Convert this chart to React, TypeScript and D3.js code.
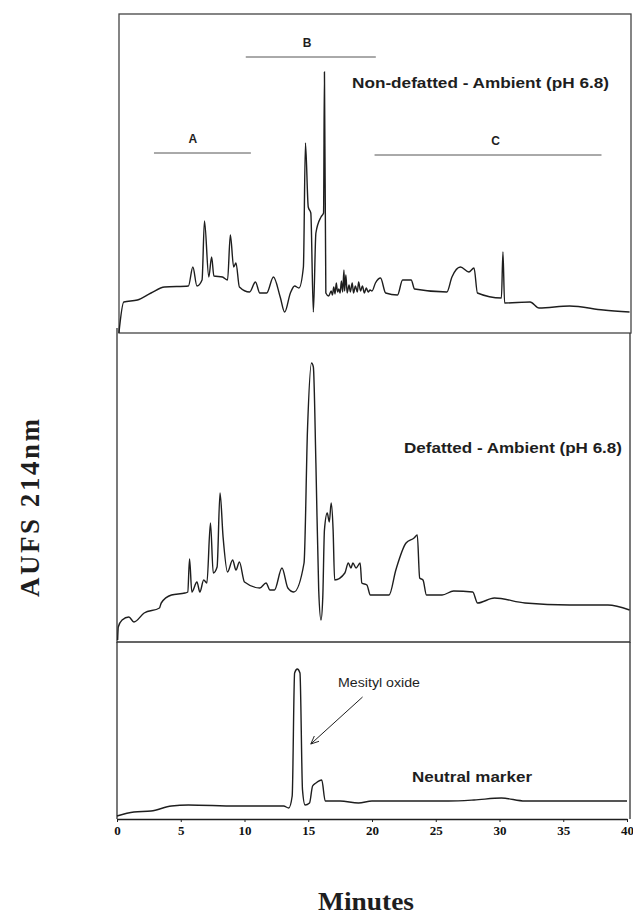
import { useEffect, useRef } from 'react';
import * as d3 from 'd3';

// Non-defatted - Ambient (pH 6.8)
const topTime = [0.15, 0.53, 1.6, 2.67, 3.73, 5.6, 5.95, 6.27, 6.67, 6.86, 7.2, 7.42, 7.6, 8.27, 8.67, 8.89, 9.15, 9.33, 9.6,
  10.4, 10.86, 11.2, 11.74, 12.27, 12.8, 13.15, 13.6, 13.93, 14.27, 14.62, 14.78, 15.0, 15.2, 15.4, 15.6, 16.0, 16.2, 16.27, 16.38,
  16.6, 16.8, 16.9, 17.0, 17.1, 17.2, 17.3, 17.4, 17.5, 17.6, 17.7, 17.8, 17.85, 17.95, 18.05, 18.2, 18.3, 18.45, 18.55, 18.7,
  18.85, 18.95, 19.1, 19.25, 19.4, 19.55, 19.7, 19.85, 20.0, 20.27, 20.67, 21.07, 22.0, 22.4, 23.07, 23.34, 25.87, 26.27, 26.94,
  27.6, 28.0, 28.27, 30.15, 30.27, 30.4, 32.4, 33.1, 35.5, 38.15, 40.2];
const topSignal = [0, 31, 33, 40, 46, 47, 66, 47, 53, 112, 56, 76, 57, 56, 53, 98, 66, 70, 46,
  41, 51, 40, 40, 56, 36, 21, 40, 47, 45, 66, 190, 126, 120, 21, 100, 116, 120, 261, 40,
  37, 42, 38, 46, 39, 50, 41, 44, 40, 52, 41, 63, 42, 58, 40, 48, 41, 50, 40, 47,
  41, 51, 42, 47, 40, 45, 41, 43, 42, 50, 55, 40, 38, 53, 53, 44, 41, 56, 66,
  61, 65, 40, 35, 81, 30, 31, 25, 27, 23, 21];

// Defatted - Ambient (pH 6.8)
const midTime = [0.05, 0.1, 0.4, 0.93, 1.33, 2.13, 3.33, 3.47, 4.27, 5.33, 5.55, 5.69, 5.87, 6.27, 6.5, 6.8, 7.05, 7.33, 7.55,
  7.85, 8.08, 8.32, 8.67, 9.07, 9.33, 9.6, 10.0, 11.2, 11.69, 12.0, 12.35, 12.94, 13.4, 13.87, 14.67, 14.94, 15.26, 15.4, 15.6,
  15.82, 16.0, 16.14, 16.27, 16.49, 16.65, 16.8, 16.95, 17.07, 17.87, 18.14, 18.35, 18.5, 18.75, 19.07, 19.2, 19.6, 19.87,
  21.34, 21.87, 22.67, 23.3, 23.55, 23.74, 24.0, 24.27, 25.5, 26.4, 27.9, 28.28, 29.6, 32.0, 35.5, 38.5, 40.2];
const midSignal = [2, 15, 22, 25, 20, 29, 34, 39, 47, 49, 50, 83, 50, 60, 50, 62, 59, 119, 69,
  75, 149, 105, 70, 82, 72, 80, 60, 54, 59, 52, 52, 74, 54, 50, 79, 212, 279, 275, 179,
  52, 22, 45, 112, 129, 120, 139, 112, 62, 69, 79, 74, 79, 74, 79, 59, 57, 47,
  47, 72, 99, 104, 107, 64, 62, 47, 47, 51, 50, 39, 44, 39, 37, 37, 32];

// Neutral marker
const botTime = [0, 1.33, 2.67, 4.27, 5.6, 9.33, 13.07, 13.47, 13.74, 13.93, 14.14, 14.35, 14.55, 14.75, 15.1, 15.34, 15.6,
  16.06, 16.33, 17.5, 18.94, 20, 26, 28, 30.15, 32, 40];
const botSignal = [3, 7, 8, 13, 14, 13, 13, 11, 23, 146, 150, 146, 29, 14, 16, 33, 36,
  39, 18, 18, 16, 18, 18, 19, 21, 18, 18];

const tickLabels = [0, 5, 10, 15, 20, 25, 30, 35, 40];

// region bars over the top trace
const regionNames = ['A', 'B', 'C'];
const regionStart = [2.9, 10.1, 20.2];
const regionEnd = [10.5, 20.3, 38.0];
const regionLabelAt = [5.95, 14.9, 29.7];
const regionLevel = [180, 276, 178];

const ink = '#1e1e1e';
const sans = '"Liberation Sans", Arial, sans-serif';
const serif = '"Liberation Serif", "Times New Roman", serif';

function App() {
  const axisRef = useRef<SVGGElement>(null);

  const x = d3.scaleLinear().domain([0, 40]).range([117, 627]);
  const yTop = d3.scaleLinear().domain([0, 300]).range([333, 33]);
  const yMid = d3.scaleLinear().domain([0, 300]).range([642, 342]);
  const yBot = d3.scaleLinear().domain([0, 160]).range([819, 659]);

  const trace = (time: number[], y: d3.ScaleLinear<number, number>) =>
    d3.line<number>()
      .x((_, i) => x(time[i]))
      .y(d => y(d))
      .curve(d3.curveMonotoneX);

  useEffect(() => {
    const g = d3.select(axisRef.current);
    g.selectAll('*').remove();
    g.call(d3.axisBottom(x).tickValues(tickLabels).tickSize(3).tickSizeOuter(0).tickPadding(4));
    g.select('.domain').attr('stroke', ink).attr('stroke-width', 1.4);
    g.selectAll('.tick line').attr('stroke', ink);
    g.selectAll('.tick text')
      .attr('fill', '#111')
      .style('font-family', serif)
      .style('font-weight', 'bold')
      .style('font-size', '13px');
  }, []);

  return (
    <svg width={633} height={915} style={{ position: 'absolute', left: 0, top: 0, background: '#fff' }}>
      <defs>
        <marker id="arrow" viewBox="0 0 10 10" refX="9" refY="5" markerWidth="9" markerHeight="9" orient="auto">
          <path d="M0,1 L9,5 L0,9" fill="none" stroke={ink} strokeWidth={1} />
        </marker>
      </defs>

      {/* frames */}
      <rect x={119} y={14} width={512} height={319} fill="none" stroke="#444" strokeWidth={1.3} />
      <path d="M117,328 V642 H630 V333" fill="none" stroke="#333" strokeWidth={1.3} />
      <path d="M117,642 V819 M630,642 V819" fill="none" stroke="#333" strokeWidth={1.3} />

      {/* traces */}
      <path d={trace(topTime, yTop)(topSignal) ?? ''} fill="none" stroke={ink} strokeWidth={1.4} />
      <path d={trace(midTime, yMid)(midSignal) ?? ''} fill="none" stroke={ink} strokeWidth={1.4} />
      <path d={trace(botTime, yBot)(botSignal) ?? ''} fill="none" stroke={ink} strokeWidth={1.4} />

      {/* region bars */}
      {regionNames.map((n, i) => (
        <g key={n}>
          <line x1={x(regionStart[i])} x2={x(regionEnd[i])} y1={yTop(regionLevel[i])} y2={yTop(regionLevel[i])}
            stroke="#555" strokeWidth={1} />
          <text x={x(regionLabelAt[i])} y={yTop(regionLevel[i]) - 10}
            textAnchor="middle" fontFamily={sans} fontWeight="bold" fontSize={12} fill={ink}>{n}</text>
        </g>
      ))}

      <text x={352} y={88} fontFamily={sans} fontWeight="bold" fontSize={14} fill={ink}
        textLength={257} lengthAdjust="spacingAndGlyphs">Non-defatted - Ambient (pH 6.8)</text>
      <text x={404} y={453} fontFamily={sans} fontWeight="bold" fontSize={14} fill={ink}
        textLength={218} lengthAdjust="spacingAndGlyphs">Defatted - Ambient (pH 6.8)</text>
      <text x={338} y={687} fontFamily={sans} fontSize={12} fill={ink}
        textLength={82} lengthAdjust="spacingAndGlyphs">Mesityl oxide</text>
      <text x={412} y={782} fontFamily={sans} fontWeight="bold" fontSize={15} fill={ink}
        textLength={120} lengthAdjust="spacingAndGlyphs">Neutral marker</text>

      <line x1={x(19.26)} y1={yBot(122)} x2={x(15.2)} y2={yBot(75)} stroke={ink} strokeWidth={1}
        markerEnd="url(#arrow)" />

      {/* x axis */}
      <g ref={axisRef} transform="translate(0,819)" />

      <text x={366} y={910} textAnchor="middle" fontFamily={serif} fontWeight="bold" fontSize={25} fill={ink}
        textLength={96} lengthAdjust="spacingAndGlyphs">Minutes</text>
      <text transform="translate(39,508) rotate(-90)" textAnchor="middle" fontFamily={serif} fontWeight="bold"
        fontSize={27} fill={ink} textLength={178} lengthAdjust="spacing">AUFS 214nm</text>
    </svg>
  );
}

export default App;
